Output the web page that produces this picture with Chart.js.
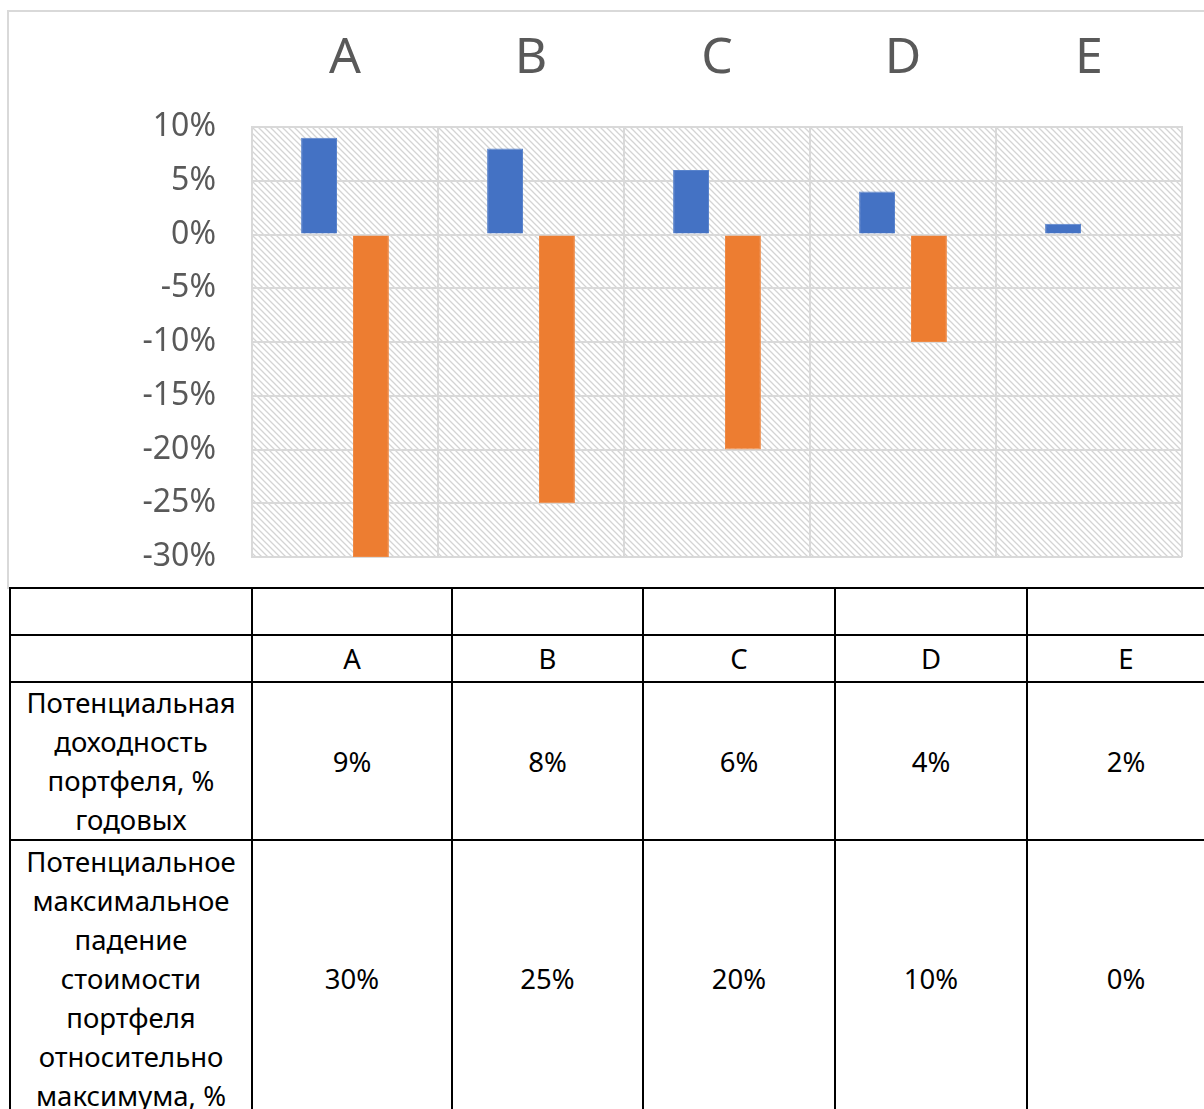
<!DOCTYPE html>
<html>
<head>
<meta charset="utf-8">
<script src="https://cdn.jsdelivr.net/npm/chart.js@4.4.1/dist/chart.umd.min.js"></script>
<style>
  html, body { margin: 0; padding: 0; background: #fff; overflow: hidden; width: 1204px; height: 1109px; }
  #box { position: absolute; left: 7px; top: 10px; width: 1210px; height: 575px; border: 2px solid #d9d9d9; box-sizing: content-box; }
  #wrap { position: absolute; left: 2px; top: 0px; width: 1195px; height: 573px; }
  table { position: absolute; left: 9px; top: 587px; border-collapse: collapse; table-layout: fixed; width: 1215px;
          font-family: "Noto Sans", "Open Sans", sans-serif; font-size: 27.5px; line-height: 39px; color: #000; }
  td { border: 2px solid #000; text-align: center; vertical-align: middle; padding: 0 4px; }
</style>
</head>
<body>
<div id="box"><div id="wrap"><canvas id="c"></canvas></div></div>
<table id="t">
  <colgroup>
    <col style="width:242px"><col style="width:200px"><col style="width:191px"><col style="width:192px"><col style="width:192px"><col style="width:198px">
  </colgroup>
  <tbody id="tb"></tbody>
</table>
<script>
const categories = ['A', 'B', 'C', 'D', 'E'];
const returns = [9, 8, 6, 4, 1];
const drawdowns = [-30, -25, -20, -10, 0];
const yMin = -30, yMax = 10, yStep = 5;
const rowLabels = ['Потенциальная доходность портфеля, % годовых',
                   'Потенциальное максимальное падение стоимости портфеля относительно максимума, %'];
const tableReturns = ['9%', '8%', '6%', '4%', '2%'];
const tableDrawdowns = ['30%', '25%', '20%', '10%', '0%'];

// table
const tb = document.getElementById('tb');
function addRow(cells, h) {
  const tr = document.createElement('tr');
  tr.style.height = h + 'px';
  cells.forEach(c => { const td = document.createElement('td'); td.textContent = c; tr.appendChild(td); });
  tb.appendChild(tr);
}
addRow(['', '', '', '', '', ''], 47);
addRow([''].concat(categories), 47);
addRow([rowLabels[0]].concat(tableReturns), 153);
addRow([rowLabels[1]].concat(tableDrawdowns), 276);

// hatch pattern
function makePattern(ctx) {
  const s = 6;
  const pc = document.createElement('canvas');
  pc.width = s; pc.height = s;
  const p = pc.getContext('2d');
  p.fillStyle = '#ffffff'; p.fillRect(0, 0, s, s);
  p.strokeStyle = '#d4d4d4'; p.lineWidth = 1.3;
  p.beginPath();
  p.moveTo(-1, -1); p.lineTo(s + 1, s + 1);
  p.moveTo(-1, s - 1); p.lineTo(1, s + 1);
  p.moveTo(s - 1, -1); p.lineTo(s + 1, 1);
  p.stroke();
  return ctx.createPattern(pc, 'repeat');
}
const hatch = {
  id: 'hatch',
  beforeDraw(chart) {
    const { ctx, chartArea: a } = chart;
    ctx.save();
    ctx.fillStyle = makePattern(ctx);
    ctx.fillRect(a.left, a.top, a.right - a.left, a.bottom - a.top);
    ctx.restore();
  }
};

new Chart(document.getElementById('c'), {
  type: 'bar',
  data: {
    labels: categories,
    datasets: [
      { label: 'Доходность', data: returns, backgroundColor: '#4472C4', borderColor: '#5a84cc', borderWidth: 1,
        categoryPercentage: 0.558, barPercentage: 0.692 },
      { label: 'Падение', data: drawdowns, backgroundColor: '#ED7D31', borderColor: '#ef8a45', borderWidth: 1,
        categoryPercentage: 0.558, barPercentage: 0.692 }
    ]
  },
  options: {
    responsive: true,
    maintainAspectRatio: false,
    animation: false,
    layout: { padding: { left: 0, right: 24, top: 0, bottom: 28 } },
    plugins: { legend: { display: false }, tooltip: { enabled: false } },
    scales: {
      x: {
        position: 'top',
        offset: true,
        grid: { color: '#d9d9d9', lineWidth: 2, offset: true, drawTicks: false },
        border: { color: '#d9d9d9', width: 2 },
        ticks: { color: '#595959', font: { family: 'Noto Sans', size: 50 }, padding: 38 },
        afterFit(s) { s.height = 115; s.paddingLeft = 0; s.paddingRight = 0; }
      },
      y: {
        min: yMin, max: yMax,
        grid: { color: '#d9d9d9', lineWidth: 2, drawTicks: false },
        border: { color: '#d9d9d9', width: 2 },
        ticks: { stepSize: yStep, color: '#595959', font: { family: 'Noto Sans', size: 32 }, padding: 36,
                 callback: v => v + '%' },
        afterFit(s) { s.width = 241; s.paddingTop = 0; s.paddingBottom = 0; }
      }
    }
  },
  plugins: [hatch]
});
</script>
</body>
</html>
